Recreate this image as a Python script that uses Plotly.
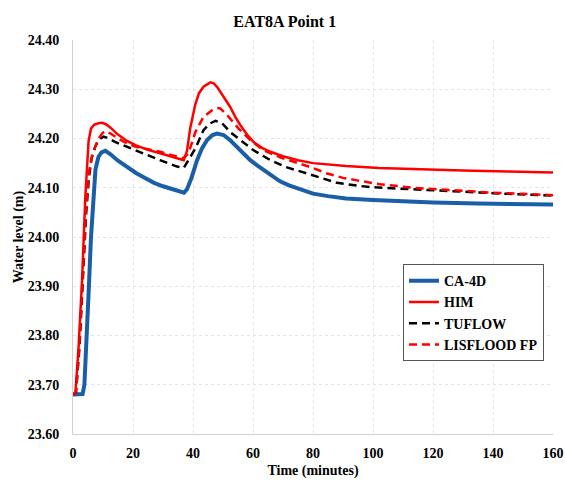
import plotly.graph_objects as go

# ---- data ----
ca4d_t = [0, 1.5, 3.2, 3.8, 4.5, 5.3, 6.0, 6.9, 7.5, 8.5, 9.5, 10.8, 12.5, 15, 18, 21, 24, 27, 30, 33, 36, 37,
          38, 39.5, 41.3, 43, 44.7, 46.5, 48, 50.2, 52.5, 54.7, 57, 59.1, 61.5, 63.5, 66, 69, 72, 76, 80, 85, 91,
          100, 110, 120, 135, 150, 160]
ca4d_v = [23.68, 23.68, 23.681, 23.70, 23.78, 23.90, 24.00, 24.10, 24.138, 24.163, 24.172, 24.175, 24.168,
          24.155, 24.142, 24.13, 24.12, 24.11, 24.103, 24.097, 24.092, 24.09,
          24.097, 24.12, 24.155, 24.18, 24.197, 24.207, 24.21, 24.207, 24.196, 24.183, 24.168, 24.156, 24.145,
          24.136, 24.125, 24.113, 24.105, 24.096, 24.088, 24.083, 24.078,
          24.075, 24.072, 24.07, 24.068, 24.067, 24.066]

him_t = [0, 0.8, 1.9, 3.0, 4.1, 4.7, 5.2, 6.0, 7.0, 8.5, 9.7, 11, 12.5, 15, 18, 21, 25, 29, 33, 36.9,
         38, 39.1, 40.8, 42, 43.5, 45.8, 46.9, 48, 49.1, 50.7, 52.4, 54, 55.8, 58, 60.2, 63, 65.8, 70, 75, 80,
         91, 102, 116, 130, 145, 160]
him_v = [23.68, 23.683, 23.78, 23.91, 24.08, 24.15, 24.195, 24.22, 24.228, 24.231, 24.232, 24.229, 24.222,
         24.208, 24.195, 24.186, 24.177, 24.17, 24.163, 24.156,
         24.175, 24.222, 24.27, 24.292, 24.305, 24.314, 24.312, 24.305, 24.295, 24.28, 24.264, 24.245, 24.227,
         24.208, 24.193, 24.181, 24.173, 24.164, 24.156, 24.15,
         24.144, 24.14, 24.137, 24.135, 24.133, 24.131]

tuflow_t = [0, 1, 2.2, 3.3, 4.4, 5.3, 6.2, 7.5, 8.7, 10.2, 12, 14, 18, 22, 26, 29, 32, 34.7, 36.9,
            38.5, 40.8, 43.5, 45.5, 47.5, 49.7, 52.4, 55.8, 60.2, 65.8, 71, 78, 84, 88, 95, 100, 113, 125,
            140, 160]
tuflow_v = [23.68, 23.685, 23.78, 23.91, 24.05, 24.12, 24.16, 24.185, 24.198, 24.204, 24.2, 24.193, 24.183,
            24.172, 24.163, 24.156, 24.149, 24.143, 24.14,
            24.156, 24.18, 24.217, 24.23, 24.236, 24.231, 24.213, 24.197, 24.176, 24.156, 24.142, 24.129,
            24.118, 24.11, 24.104, 24.101, 24.097, 24.093, 24.089, 24.084]

lisflood_t = [0, 1, 2.1, 3.2, 4.3, 5.3, 6.3, 7.2, 8.5, 10, 11, 12.5, 15, 18, 21, 25, 29, 33, 36.9,
              38.5, 40.8, 43.5, 46.3, 48, 49.1, 51.9, 55.2, 59.1, 63.5, 69, 75.8, 80, 84.7, 90, 94.7, 102.4,
              113.5, 125, 140, 160]
lisflood_v = [23.68, 23.686, 23.78, 23.91, 24.05, 24.13, 24.165, 24.18, 24.2, 24.212, 24.215, 24.21, 24.2,
              24.19, 24.183, 24.178, 24.173, 24.166, 24.16,
              24.17, 24.213, 24.244, 24.257, 24.262, 24.261, 24.244, 24.22, 24.197, 24.176, 24.162, 24.149,
              24.14, 24.129, 24.12, 24.115, 24.107, 24.10, 24.095, 24.09, 24.085]

x_ticks = [0, 20, 40, 60, 80, 100, 120, 140, 160]
y_ticks = [23.60, 23.70, 23.80, 23.90, 24.00, 24.10, 24.20, 24.30, 24.40]

FONT = "Liberation Serif, Times New Roman, serif"

fig = go.Figure()
fig.add_trace(go.Scatter(x=ca4d_t, y=ca4d_v, mode="lines", name="CA-4D",
                         line=dict(color="#1a5ea8", width=4)))
fig.add_trace(go.Scatter(x=him_t, y=him_v, mode="lines", name="HIM",
                         line=dict(color="#ff0000", width=2.5)))
fig.add_trace(go.Scatter(x=tuflow_t, y=tuflow_v, mode="lines", name="TUFLOW",
                         line=dict(color="#000000", width=2.5, dash="8px,5px")))
fig.add_trace(go.Scatter(x=lisflood_t, y=lisflood_v, mode="lines", name="LISFLOOD FP",
                         line=dict(color="#ff0000", width=2.5, dash="8px,5px")))

fig.update_layout(
    width=565, height=483,
    margin=dict(l=73, r=12, t=40, b=49, autoexpand=False),
    paper_bgcolor="white", plot_bgcolor="white",
    font=dict(family=FONT, size=14, color="black", weight="bold"),
    title=dict(text="EAT8A Point 1", x=0.504, xanchor="center", y=0.955, yanchor="middle",
               font=dict(family=FONT, size=16, color="black", weight="bold")),
    showlegend=True,
    legend=dict(x=0.6875, y=0.431, xanchor="left", yanchor="top",
                bgcolor="white", bordercolor="#555555", borderwidth=1,
                font=dict(family=FONT, size=14, color="black", weight="bold"),
                tracegroupgap=0, itemwidth=30),
)
fig.update_xaxes(
    range=[0, 160], tickvals=x_ticks, ticktext=[str(v) for v in x_ticks],
    showgrid=True, gridcolor="#e4e4e4", griddash="dot", gridwidth=1,
    showline=True, linecolor="#d0d0d0", linewidth=1, zeroline=False,
    ticks="", ticklabelstandoff=6, automargin=False,
    tickfont=dict(family=FONT, size=14, weight="bold"),
    title=dict(text="Time (minutes)", standoff=5, font=dict(family=FONT, size=14, weight="bold")),
)
fig.update_yaxes(
    range=[23.6, 24.4], tickvals=y_ticks, ticktext=[f"{v:.2f}" for v in y_ticks],
    showgrid=True, gridcolor="#e4e4e4", griddash="dot", gridwidth=1,
    showline=True, linecolor="#d0d0d0", linewidth=1, zeroline=False,
    ticks="", ticklabelstandoff=10, automargin=False,
    tickfont=dict(family=FONT, size=14, weight="bold"),
    title=dict(text="Water level (m)", standoff=0, font=dict(family=FONT, size=14, weight="bold")),
)

fig.write_html("out.html", config={"displayModeBar": False},
               post_script="document.body.style.margin='0';")
